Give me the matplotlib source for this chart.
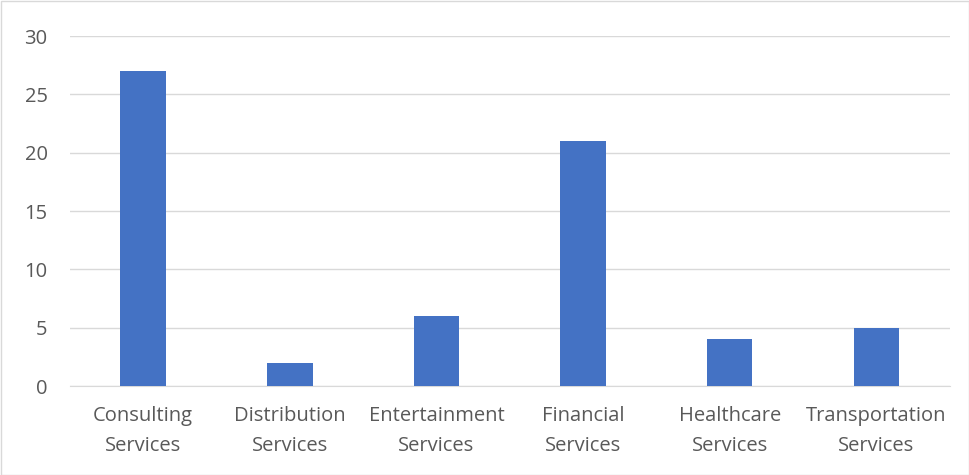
import matplotlib
matplotlib.use("Agg")
import matplotlib.pyplot as plt

categories = ["Consulting\nServices", "Distribution\nServices", "Entertainment\nServices",
              "Financial\nServices", "Healthcare\nServices", "Transportation\nServices"]
values = [27, 2, 6, 21, 4, 5]
yticks = [0, 5, 10, 15, 20, 25, 30]

plt.rcParams['font.family'] = ['Open Sans', 'DejaVu Sans']

fig = plt.figure(figsize=(9.7, 4.75), dpi=100)
ax = fig.add_axes([0.072, 0.187, 0.907, 0.737])
x = list(range(len(categories)))
ax.bar(x, values, width=0.31, color="#4472C4", zorder=3)
ax.set_xlim(-0.5, len(categories) - 0.5)
ax.set_ylim(0, 30)
ax.set_yticks(yticks)
ax.set_yticklabels([str(v) for v in yticks])
ax.set_xticks(x)
ax.set_xticklabels(categories, linespacing=1.7)
ax.grid(axis='y', color="#D9D9D9", linewidth=1, zorder=0)
for s in ['top', 'right', 'left']:
    ax.spines[s].set_visible(False)
ax.spines['bottom'].set_color("#D9D9D9")
ax.tick_params(axis='both', length=0, labelsize=14.5, colors="#595959")
ax.tick_params(axis='y', pad=16)
ax.tick_params(axis='x', pad=14)

fig.patches.append(plt.Rectangle((0.001, 0.001), 0.998, 0.997, transform=fig.transFigure,
                                 fill=False, edgecolor="#D9D9D9", linewidth=1))
fig.savefig("out.png", dpi=100, facecolor="white")
